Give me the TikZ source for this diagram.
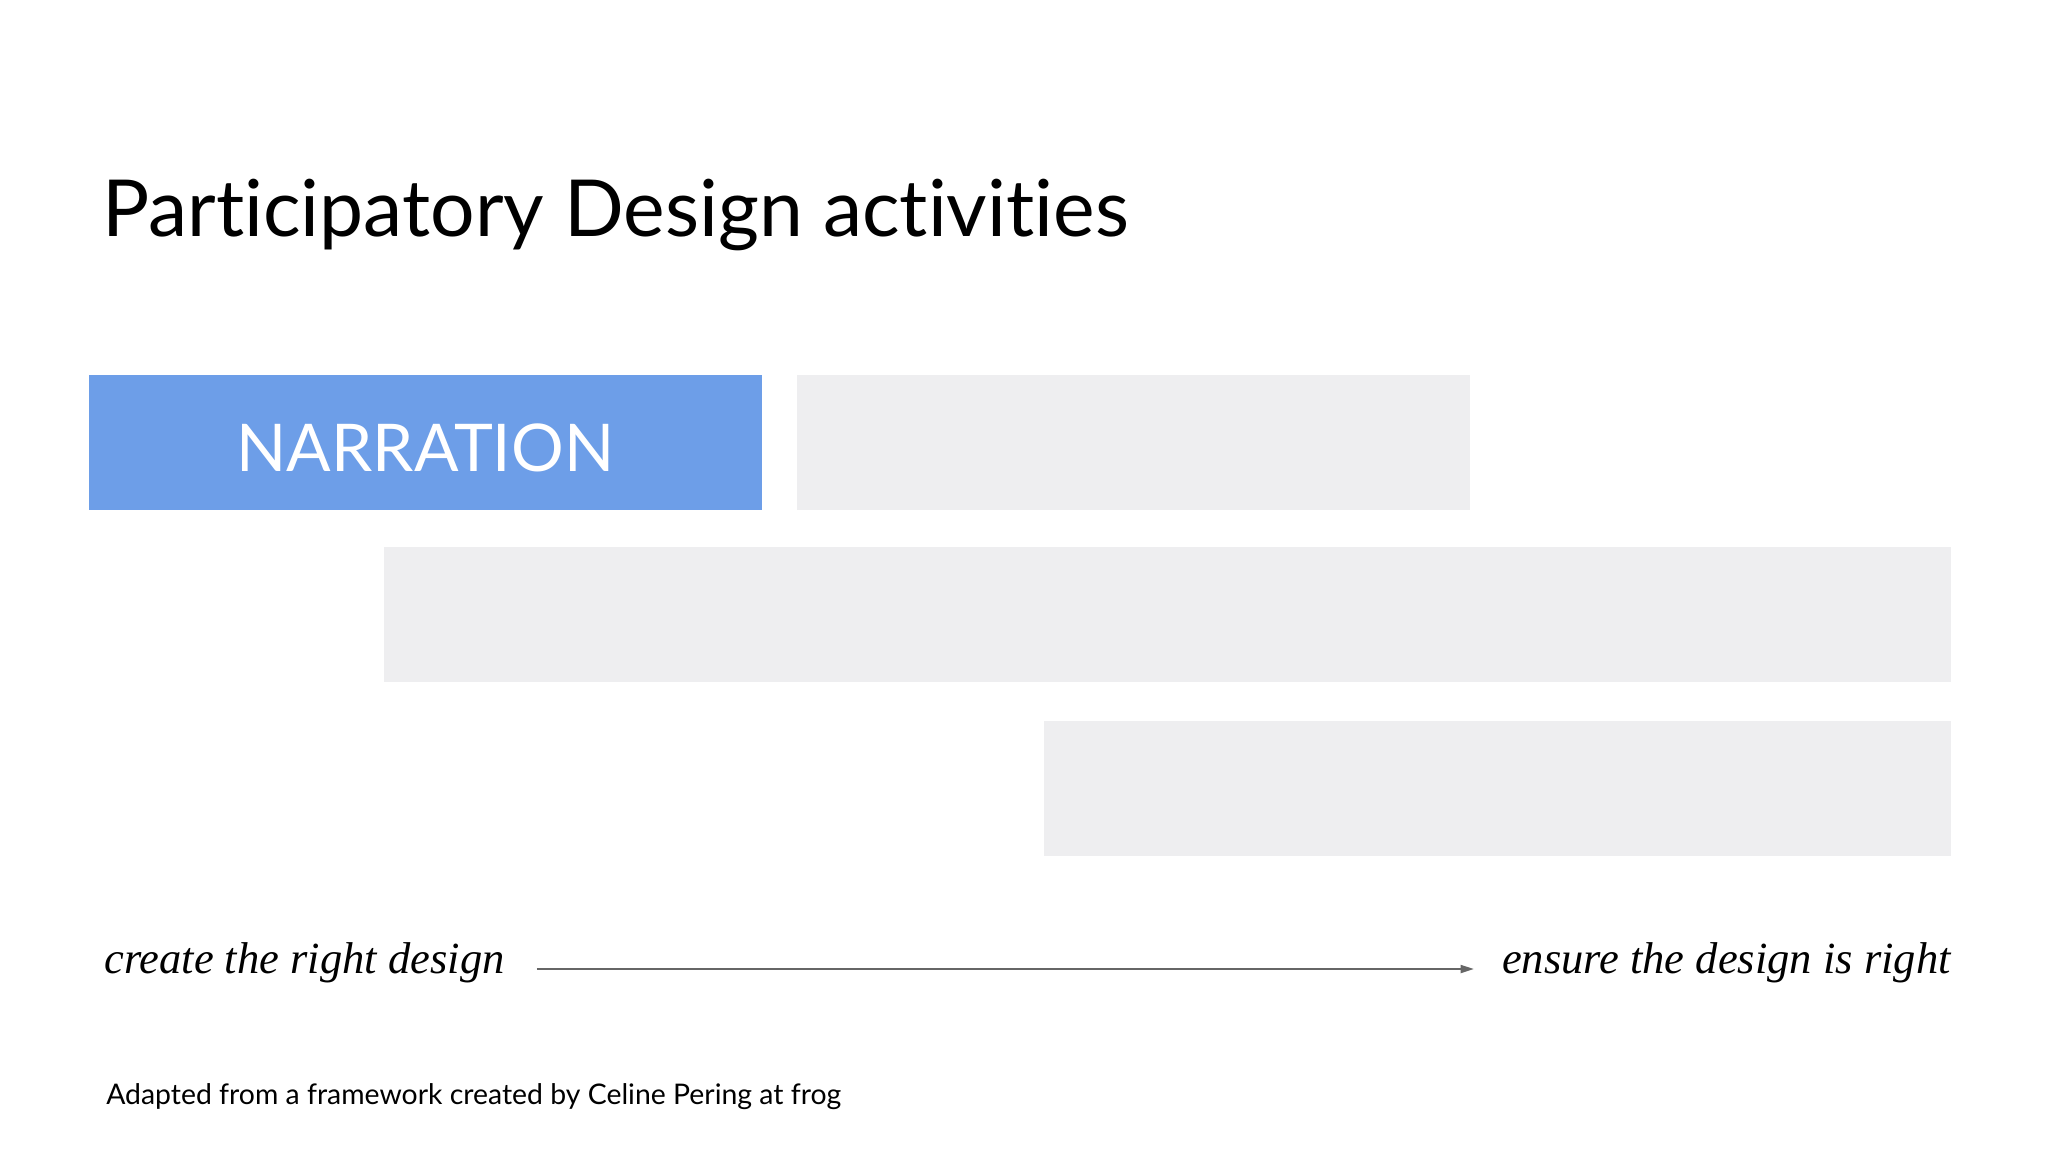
\documentclass[tikz,border=0pt]{standalone}
\usepackage{fontspec}
\setmainfont{Liberation Serif}
\setsansfont{Lato}[Ligatures=NoCommon]
\usetikzlibrary{arrows.meta}

\definecolor{narrblue}{RGB}{109,158,232}
\definecolor{slotgray}{RGB}{238,238,240}
\definecolor{arrowgray}{RGB}{102,102,102}

\begin{document}
\begin{tikzpicture}[x=0.75pt,y=0.75pt,yscale=-1,xscale=1,
  slot/.style={fill=slotgray, draw=none, inner sep=0pt, anchor=north west, minimum height=101pt},
  phrase/.style={font=\fontsize{33.4}{38}\selectfont\itshape, text=black, inner sep=0pt, anchor=base west, text height=20pt, text depth=14pt},
  flow/.style={draw=arrowgray, line width=1.5pt, -{Triangle[length=10pt,width=6pt]}}]
%set diagram to 2048 x 1152
\path [fill=white] (0,0) rectangle (2048,1152);

% Title
\node [font=\sffamily\fontsize{59}{70}\selectfont, inner sep=0pt, anchor=base west] (title) at (102,236) {Participatory Design activities};

%Shape: Rectangle [narration]
\node [slot, fill=narrblue, minimum width=504.5pt, text=white, font=\sffamily\fontsize{49.4}{58}\selectfont, align=center, text height=43pt, text depth=0pt] (narration) at (88.8,375) {NARRATION};
%Shape: Rectangle [empty slots]
\node [slot, minimum width=504.5pt] (slotA) at (796.7,375) {};
\node [slot, minimum width=1175pt] (slotB) at (384,547) {};
\node [slot, minimum width=680.5pt] (slotC) at (1043.6,721) {};

% Text Node
\node [phrase] (create) at (104,973) {create the right design};
% Text Node
\node [phrase, anchor=base east] (ensure) at (1951,973) {ensure the design is right};
%Straight Lines
\draw [flow, shorten <=24pt, shorten >=21pt] (create.east) -- (ensure.west);

% Footer
\node [font=\sffamily\fontsize{21.3}{25}\selectfont, inner sep=0pt, anchor=base west] (credit) at (106,1104) {Adapted from a framework created by Celine Pering at frog};

\end{tikzpicture}
\end{document}
